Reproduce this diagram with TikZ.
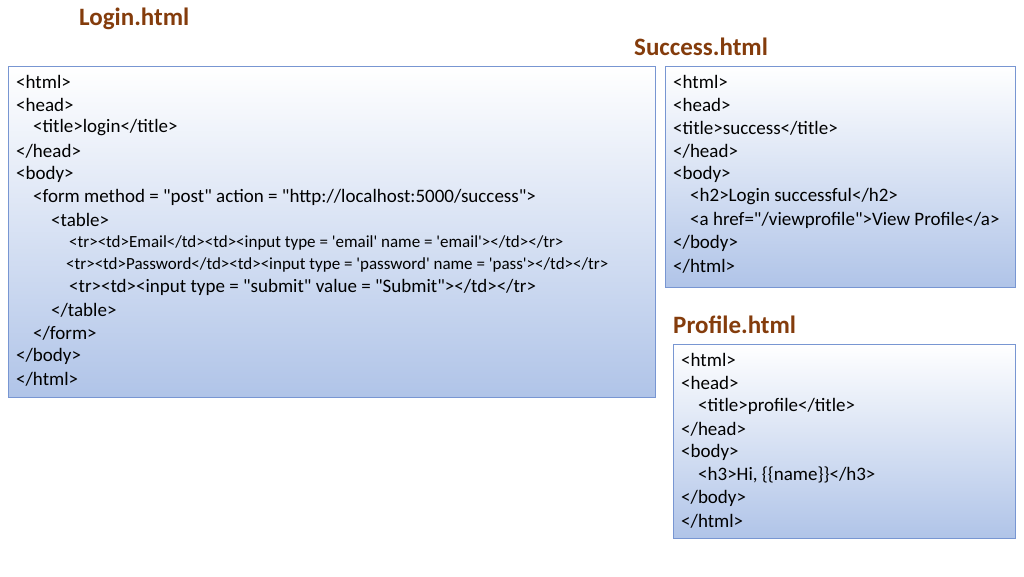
\documentclass[tikz,border=0pt]{standalone}
\usepackage{fontspec}
\setmainfont{Carlito}[Ligatures=TeXOff]
\definecolor{ttl}{RGB}{132,60,12}
\definecolor{bord}{RGB}{120,150,210}
\definecolor{boxbot}{RGB}{176,196,232}
\begin{document}
\begin{tikzpicture}[x=1pt,y=-1pt,
  codebox/.style={draw=bord,line width=0.8pt,top color=white,bottom color=boxbot},
  ttlnode/.style={anchor=west,text=ttl,font=\fontsize{25}{28}\selectfont\bfseries,inner sep=0pt},
  ln/.style={anchor=west,inner sep=0pt,font=\fontsize{19}{22}\selectfont},
  sm/.style={anchor=west,inner sep=0pt,font=\fontsize{17}{19}\selectfont}]
\useasboundingbox (0,0) rectangle (1024,576);
\path[codebox] (8,66) rectangle (655,397);
\path[codebox] (665,66) rectangle (1015,287);
\path[codebox] (673,344) rectangle (1015,538);
\node[ttlnode] (t1) at (79,19) {Login.html};
\node[ttlnode] (t2) at (634,47) {Success.html};
\node[ttlnode] (t3) at (673,325) {Profile.html};
% Login
\node[ln] (a1) at (16,82) {<html>};
\node[ln] (a2) at (16,105) {<head>};
\node[ln] (a3) at (33,128) {<title>login</title>};
\node[ln] (a4) at (16,151) {</head>};
\node[ln] (a5) at (16,174) {<body>};
\node[ln] (a6) at (33,197) {<form method = "post" action = "http://localhost:5000/success">};
\node[ln] (a7) at (51,220) {<table>};
\node[sm] (a8) at (69,243) {<tr><td>Email</td><td><input type = 'email' name = 'email'></td></tr>};
\node[sm] (a9) at (66,265) {<tr><td>Password</td><td><input type = 'password' name = 'pass'></td></tr>};
\node[ln] (a10) at (69,287) {<tr><td><input type = "submit" value = "Submit"></td></tr>};
\node[ln] (a11) at (51,310) {</table>};
\node[ln] (a12) at (33,333) {</form>};
\node[ln] (a13) at (16,356) {</body>};
\node[ln] (a14) at (16,379) {</html>};
% Success
\node[ln] (b1) at (673,82) {<html>};
\node[ln] (b2) at (673,105) {<head>};
\node[ln] (b3) at (673,128) {<title>success</title>};
\node[ln] (b4) at (673,151) {</head>};
\node[ln] (b5) at (673,174) {<body>};
\node[ln] (b6) at (690,197) {<h2>Login successful</h2>};
\node[ln] (b7) at (690,220) {<a href="/viewprofile">View Profile</a>};
\node[ln] (b8) at (673,243) {</body>};
\node[ln] (b9) at (673,266) {</html>};
% Profile
\node[ln] (c1) at (681,360) {<html>};
\node[ln] (c2) at (681,383) {<head>};
\node[ln] (c3) at (698,406) {<title>profile</title>};
\node[ln] (c4) at (681,429) {</head>};
\node[ln] (c5) at (681,452) {<body>};
\node[ln] (c6) at (698,475) {<h3>Hi, \{\{name\}\}</h3>};
\node[ln] (c7) at (681,498) {</body>};
\node[ln] (c8) at (681,521) {</html>};
\end{tikzpicture}
\end{document}
